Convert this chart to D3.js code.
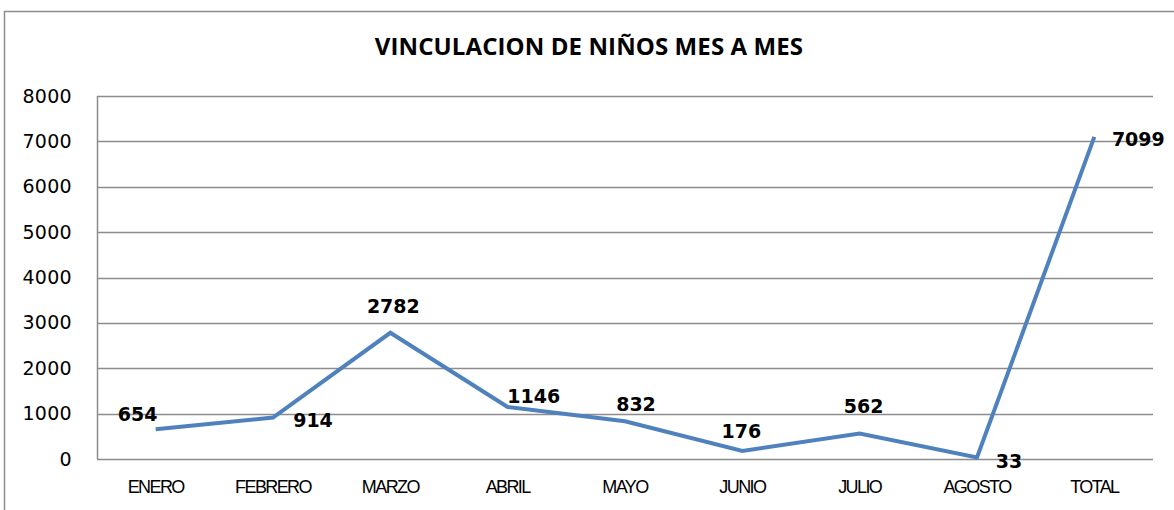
<!DOCTYPE html>
<html>
<head>
<meta charset="utf-8">
<script src="https://cdn.jsdelivr.net/npm/d3@7"></script>
<style>
	body { margin: 0; background: #fff; }
	svg { display: block; }
	.axis text { fill: #000; }
</style>
</head>
<body>
<svg id="chart"></svg>
<script>
// datos del grafico
var meses = ["ENERO", "FEBRERO", "MARZO", "ABRIL", "MAYO", "JUNIO", "JULIO", "AGOSTO", "TOTAL"];
var ninos = [654, 914, 2782, 1146, 832, 176, 562, 33, 7099];
var yTicks = [0, 1000, 2000, 3000, 4000, 5000, 6000, 7000, 8000];
var titulo = "VINCULACION DE NIÑOS MES A MES";

// desplazamiento de cada etiqueta respecto a su punto (estilo, como Excel)
var labelOffset = [[-18, -8], [40, 9], [3, -20], [26, -4], [11, -10], [-1, -13], [4, -20], [32, 10], [44, 9]];

var W = 1174, H = 510;
var margin = { top: 96, right: 21, bottom: 51, left: 97 };
var width = W - margin.left - margin.right;
var height = H - margin.top - margin.bottom;

var svg = d3.select("#chart")
	.attr("width", W)
	.attr("height", H);

// marco exterior
svg.append("path")
	.attr("d", "M4.5," + H + "V11.5H" + W)
	.attr("fill", "none")
	.attr("stroke", "#8c8c8c")
	.attr("stroke-width", 1.5);

svg.append("text")
	.attr("x", 589)
	.attr("y", 55)
	.attr("text-anchor", "middle")
	.style("font-family", "'Open Sans', sans-serif")
	.style("font-weight", "bold")
	.style("font-size", "24px")
	.style("letter-spacing", "0.1px")
	.text(titulo);

var g = svg.append("g")
	.attr("transform", "translate(" + margin.left + "," + margin.top + ")");

var x = d3.scaleBand()
	.domain(meses)
	.range([0, width]);

var y = d3.scaleLinear()
	.domain([0, 8000])
	.range([height, 0]);

// grid
g.append("g")
	.selectAll("line")
	.data(yTicks)
	.enter().append("line")
	.attr("x1", 0)
	.attr("x2", width)
	.attr("y1", function(d) { return Math.round(y(d)) + 0.5; })
	.attr("y2", function(d) { return Math.round(y(d)) + 0.5; })
	.attr("stroke", "#8c8c8c")
	.attr("stroke-width", 1.5);

g.append("line")
	.attr("x1", 0.5).attr("x2", 0.5)
	.attr("y1", 0).attr("y2", height)
	.attr("stroke", "#8c8c8c")
	.attr("stroke-width", 1.5);

// ejes
var yAxis = g.append("g")
	.attr("class", "axis")
	.call(d3.axisLeft(y).tickValues(yTicks).tickFormat(d3.format("d")).tickSize(0).tickPadding(25));
yAxis.select(".domain").remove();
yAxis.selectAll("text")
	.style("font-family", "'DejaVu Sans', Verdana, sans-serif")
	.style("font-size", "19px")
	.style("letter-spacing", "0.3px");

var xAxis = g.append("g")
	.attr("class", "axis")
	.attr("transform", "translate(0," + height + ")")
	.call(d3.axisBottom(x).tickSize(0).tickPadding(21));
xAxis.select(".domain").remove();
xAxis.selectAll("text")
	.style("font-family", "'Liberation Sans', Arial, sans-serif")
	.style("font-size", "18px")
	.style("letter-spacing", "-1.6px");

// linea
var line = d3.line()
	.x(function(d, i) { return x(meses[i]) + x.bandwidth() / 2; })
	.y(function(d) { return y(d); });

g.append("path")
	.datum(ninos)
	.attr("d", line)
	.attr("fill", "none")
	.attr("stroke", "#4f81bd")
	.attr("stroke-width", 4)
	.attr("stroke-linejoin", "miter");

// etiquetas
g.append("g")
	.selectAll("text")
	.data(ninos)
	.enter().append("text")
	.attr("x", function(d, i) { return x(meses[i]) + x.bandwidth() / 2 + labelOffset[i][0]; })
	.attr("y", function(d, i) { return y(d) + labelOffset[i][1]; })
	.attr("text-anchor", "middle")
	.style("font-family", "'DejaVu Sans', Verdana, sans-serif")
	.style("font-weight", "bold")
	.style("font-size", "19px")
	.text(function(d) { return d; });
</script>
</body>
</html>
